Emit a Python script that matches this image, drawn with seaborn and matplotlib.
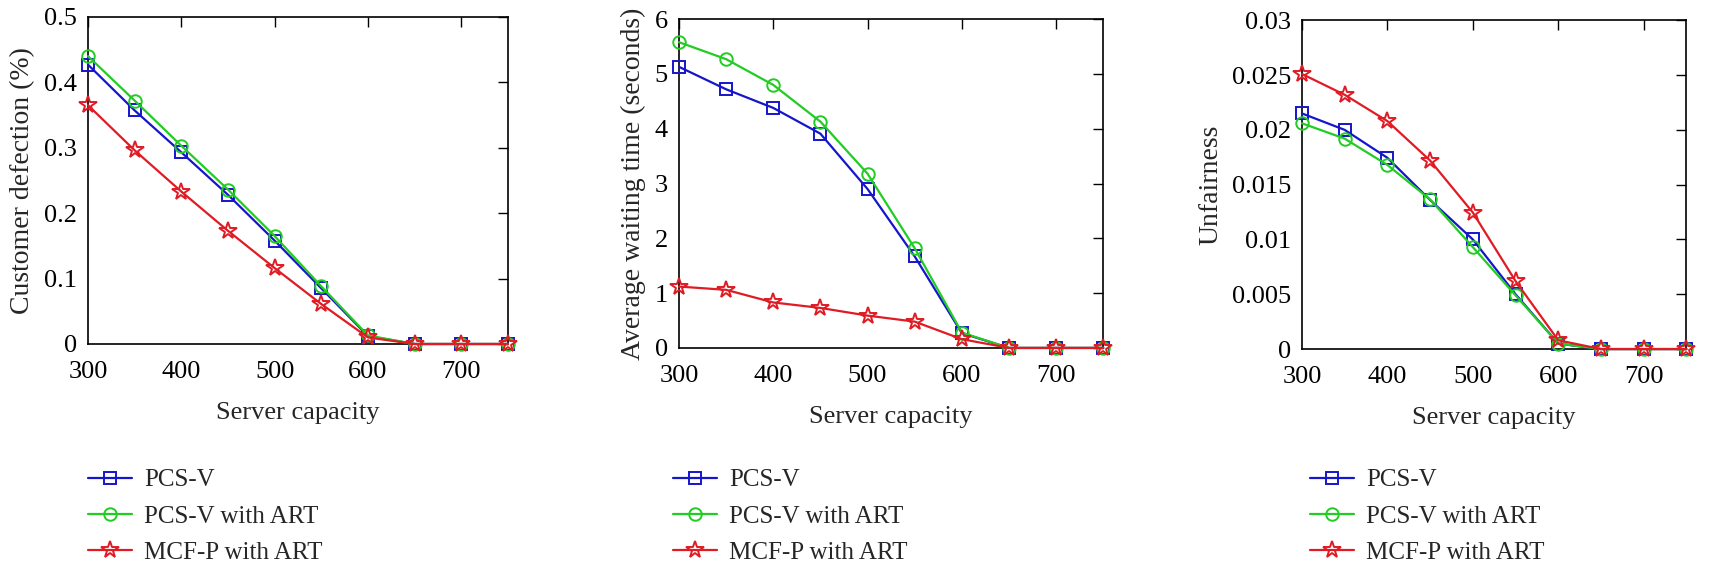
import matplotlib
matplotlib.use('Agg')
import matplotlib.pyplot as plt
import matplotlib.ticker as mticker
import seaborn as sns
import pandas as pd

# data
capacity = [300, 350, 400, 450, 500, 550, 600, 650, 700, 750]
series_names = ['PCS-V', 'PCS-V with ART', 'MCF-P with ART']

defection_pcsv = [0.427, 0.357, 0.293, 0.228, 0.158, 0.085, 0.012, 0, 0, 0]
defection_pcsv_art = [0.440, 0.372, 0.303, 0.236, 0.165, 0.088, 0.013, 0, 0, 0]
defection_mcfp_art = [0.365, 0.296, 0.233, 0.173, 0.116, 0.061, 0.010, 0, 0, 0]

waiting_pcsv = [5.13, 4.72, 4.38, 3.91, 2.90, 1.67, 0.27, 0, 0, 0]
waiting_pcsv_art = [5.58, 5.27, 4.80, 4.13, 3.18, 1.82, 0.28, 0, 0, 0]
waiting_mcfp_art = [1.12, 1.06, 0.83, 0.73, 0.59, 0.48, 0.16, 0, 0, 0]

unfair_pcsv = [0.0215, 0.0200, 0.01745, 0.0136, 0.0100, 0.0050, 0.0005, 0, 0, 0]
unfair_pcsv_art = [0.0206, 0.0192, 0.0168, 0.01365, 0.0093, 0.0049, 0.0005, 0, 0, 0]
unfair_mcfp_art = [0.0251, 0.0232, 0.0208, 0.0172, 0.01246, 0.0062, 0.0008, 0, 0, 0]

ylabels = ['Customer defection (%)', 'Average waiting time (seconds)', 'Unfairness']
yticks = [[0, 0.1, 0.2, 0.3, 0.4, 0.5],
          [0, 1, 2, 3, 4, 5, 6],
          [0, 0.005, 0.01, 0.015, 0.02, 0.025, 0.03]]
xticks = [300, 400, 500, 600, 700]

sns.set_style('white')
plt.rcParams['font.family'] = ['Liberation Serif', 'DejaVu Serif']
plt.rcParams['font.size'] = 18

colors = ['#1515cc', '#22cc22', '#e01b24']
markers = ['s', 'o', '*']
msizes = [8, 9, 13]

panels = [
    [defection_pcsv, defection_pcsv_art, defection_mcfp_art],
    [waiting_pcsv, waiting_pcsv_art, waiting_mcfp_art],
    [unfair_pcsv, unfair_pcsv_art, unfair_mcfp_art],
]

# axes rectangles in figure fractions
rects = [[0.0508, 0.389, 0.2425, 0.581],
         [0.392, 0.382, 0.245, 0.584],
         [0.7517, 0.380, 0.222, 0.584]]
legend_x = [88 / 1732, 673 / 1732, 1310 / 1732]

fig = plt.figure(figsize=(17.32, 5.63), dpi=100)

for k, values in enumerate(panels):
    ax = fig.add_axes(rects[k])
    for i, name in enumerate(series_names):
        df = pd.DataFrame({'capacity': capacity, 'value': values[i]})
        sns.lineplot(data=df, x='capacity', y='value', ax=ax, color=colors[i],
                     marker=markers[i], markersize=msizes[i], markerfacecolor='none',
                     markeredgecolor=colors[i], markeredgewidth=1.4, linewidth=1.6,
                     label=name, clip_on=False, zorder=3 + i)
    ax.set_xlim(300, 750)
    ax.set_ylim(yticks[k][0], yticks[k][-1])
    ax.set_xticks(xticks)
    ax.set_yticks(yticks[k])
    ax.yaxis.set_major_formatter(mticker.FuncFormatter(lambda v, p: f'{v:g}'))
    ax.tick_params(direction='in', length=7, width=1, top=True, right=True,
                   labelsize=19, colors='black')
    ax.tick_params(axis='x', pad=12)
    ax.tick_params(axis='y', pad=8)
    for sp in ax.spines.values():
        sp.set_color('black')
        sp.set_linewidth(1.2)
    ax.set_xlabel('Server capacity', fontsize=19, labelpad=14)
    ax.set_ylabel(ylabels[k], fontsize=20, labelpad=6)
    handles, labels = ax.get_legend_handles_labels()
    ax.legend(handles, labels, loc='upper left', bbox_to_anchor=(legend_x[k], 0.167),
              bbox_transform=fig.transFigure, frameon=False, fontsize=18,
              handlelength=1.75, handletextpad=0.5, labelspacing=0.55,
              borderpad=0, borderaxespad=0)

fig.savefig('out.png', dpi=100, facecolor='white')
